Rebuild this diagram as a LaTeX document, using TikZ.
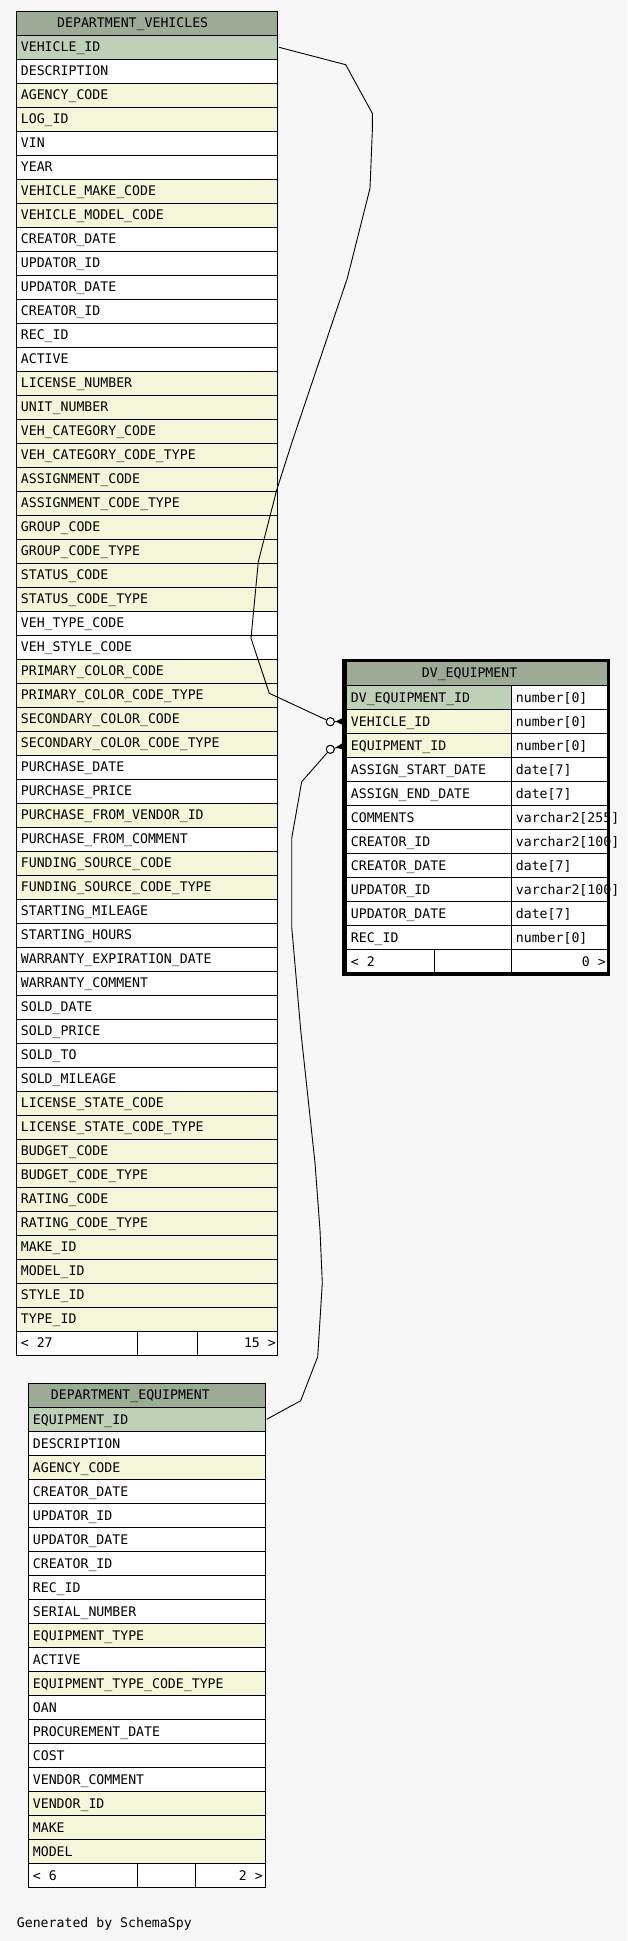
\documentclass[tikz,border=0pt]{standalone}
\usepackage{fontspec}
\newfontfamily\ermono{DejaVu Sans Mono}
\definecolor{bgc}{HTML}{F7F7F7}
\definecolor{hdc}{HTML}{9BAB96}
\definecolor{pkc}{HTML}{BED1B8}
\definecolor{ixc}{HTML}{F4F7DA}
\begin{document}
\begin{tikzpicture}[x=1pt,y=-1pt,
  txt/.style={font=\ermono\fontsize{13.2}{15}\selectfont, inner sep=0pt, anchor=base west},
  txtr/.style={txt, anchor=base east},
  cell/.style={draw=black, line width=1pt},
  fkedge/.style={draw=black, line width=0.9pt},
  odot/.style={circle, draw=black, fill=white, line width=0.9pt, minimum size=8pt, inner sep=0pt}]
\useasboundingbox[fill=bgc] (0,0) rectangle (627,1941);

% ---------------- DEPARTMENT_VEHICLES ----------------
\filldraw[cell, fill=hdc] (16.3,11.3) rectangle (277.3,35);
\node[txt] (dvvh) at (57,27) {DEPARTMENT\_VEHICLES};
\foreach \nm/\cl [count=\i from 0] in {
 VEHICLE\_ID/pkc, DESCRIPTION/white, AGENCY\_CODE/ixc, LOG\_ID/ixc, VIN/white, YEAR/white,
 VEHICLE\_MAKE\_CODE/ixc, VEHICLE\_MODEL\_CODE/ixc, CREATOR\_DATE/white, UPDATOR\_ID/white,
 UPDATOR\_DATE/white, CREATOR\_ID/white, REC\_ID/white, ACTIVE/white, LICENSE\_NUMBER/ixc,
 UNIT\_NUMBER/ixc, VEH\_CATEGORY\_CODE/ixc, VEH\_CATEGORY\_CODE\_TYPE/ixc, ASSIGNMENT\_CODE/ixc,
 ASSIGNMENT\_CODE\_TYPE/ixc, GROUP\_CODE/ixc, GROUP\_CODE\_TYPE/ixc, STATUS\_CODE/ixc,
 STATUS\_CODE\_TYPE/ixc, VEH\_TYPE\_CODE/white, VEH\_STYLE\_CODE/white, PRIMARY\_COLOR\_CODE/ixc,
 PRIMARY\_COLOR\_CODE\_TYPE/ixc, SECONDARY\_COLOR\_CODE/ixc, SECONDARY\_COLOR\_CODE\_TYPE/ixc,
 PURCHASE\_DATE/white, PURCHASE\_PRICE/white, PURCHASE\_FROM\_VENDOR\_ID/ixc,
 PURCHASE\_FROM\_COMMENT/white, FUNDING\_SOURCE\_CODE/ixc, FUNDING\_SOURCE\_CODE\_TYPE/ixc,
 STARTING\_MILEAGE/white, STARTING\_HOURS/white, WARRANTY\_EXPIRATION\_DATE/white,
 WARRANTY\_COMMENT/white, SOLD\_DATE/white, SOLD\_PRICE/white, SOLD\_TO/white,
 SOLD\_MILEAGE/white, LICENSE\_STATE\_CODE/ixc, LICENSE\_STATE\_CODE\_TYPE/ixc, BUDGET\_CODE/ixc,
 BUDGET\_CODE\_TYPE/ixc, RATING\_CODE/ixc, RATING\_CODE\_TYPE/ixc, MAKE\_ID/ixc, MODEL\_ID/ixc,
 STYLE\_ID/ixc, TYPE\_ID/ixc}{
  \pgfmathsetmacro\yt{35+24*\i}
  \filldraw[cell, fill=\cl] (16.3,\yt) rectangle (277.3,\yt+24);
  \node[txt] (dvv\i) at (20.7,\yt+16.7) {\nm};
}
\filldraw[cell, fill=white] (16.3,1331) rectangle (137.3,1355);
\filldraw[cell, fill=white] (137.3,1331) rectangle (197.3,1355);
\filldraw[cell, fill=white] (197.3,1331) rectangle (277.3,1355);
\node[txt] (dvvfl) at (20.7,1347.7) {< 27};
\node[txtr] (dvvfr) at (276,1347.7) {15 >};

% ---------------- DEPARTMENT_EQUIPMENT ----------------
\filldraw[cell, fill=hdc] (28.7,1383.3) rectangle (265.7,1407.3);
\node[txt] (deh) at (50.7,1399.3) {DEPARTMENT\_EQUIPMENT};
\foreach \nm/\cl [count=\i from 0] in {
 EQUIPMENT\_ID/pkc, DESCRIPTION/white, AGENCY\_CODE/ixc, CREATOR\_DATE/white, UPDATOR\_ID/white,
 UPDATOR\_DATE/white, CREATOR\_ID/white, REC\_ID/white, SERIAL\_NUMBER/white, EQUIPMENT\_TYPE/ixc,
 ACTIVE/white, EQUIPMENT\_TYPE\_CODE\_TYPE/ixc, OAN/white, PROCUREMENT\_DATE/white, COST/white,
 VENDOR\_COMMENT/white, VENDOR\_ID/ixc, MAKE/ixc, MODEL/ixc}{
  \pgfmathsetmacro\yt{1407.3+24*\i}
  \filldraw[cell, fill=\cl] (28.7,\yt) rectangle (265.7,\yt+24);
  \node[txt] (de\i) at (32.7,\yt+16.7) {\nm};
}
\filldraw[cell, fill=white] (28.7,1863.3) rectangle (137.3,1887.3);
\filldraw[cell, fill=white] (137.3,1863.3) rectangle (195.3,1887.3);
\filldraw[cell, fill=white] (195.3,1863.3) rectangle (265.7,1887.3);
\node[txt] (defl) at (32.7,1880) {< 6};
\node[txtr] (defr) at (263,1880) {2 >};

% ---------------- DV_EQUIPMENT ----------------
\filldraw[cell, fill=hdc] (346,661.3) rectangle (607.3,685.3);
\node[txt] (dveh) at (421.7,677.3) {DV\_EQUIPMENT};
\foreach \nm/\ty/\cl [count=\i from 0] in {
 DV\_EQUIPMENT\_ID/number[0]/pkc, VEHICLE\_ID/number[0]/ixc, EQUIPMENT\_ID/number[0]/ixc,
 ASSIGN\_START\_DATE/date[7]/white, ASSIGN\_END\_DATE/date[7]/white,
 COMMENTS/varchar2[255]/white, CREATOR\_ID/varchar2[100]/white, CREATOR\_DATE/date[7]/white,
 UPDATOR\_ID/varchar2[100]/white, UPDATOR\_DATE/date[7]/white, REC\_ID/number[0]/white}{
  \pgfmathsetmacro\yt{685.3+24*\i}
  \filldraw[cell, fill=\cl] (346,\yt) rectangle (511.7,\yt+24);
  \filldraw[cell, fill=white] (511.7,\yt) rectangle (607.3,\yt+24);
  \node[txt] (dve\i) at (350.7,\yt+16.7) {\nm};
  \node[txt] (dvt\i) at (515.7,\yt+16.7) {\ty};
}
\filldraw[cell, fill=white] (346,949.3) rectangle (434.3,973.3);
\filldraw[cell, fill=white] (434.3,949.3) rectangle (511.7,973.3);
\filldraw[cell, fill=white] (511.7,949.3) rectangle (607.3,973.3);
\node[txt] (dvefl) at (350.7,966) {< 2};
\node[txtr] (dvefr) at (606,966) {0 >};
\draw[line width=3.5pt] (344,660.3) rectangle (608.7,974);

% ---------------- connectors ----------------
\coordinate (vpk) at (279,47.3);
\coordinate (epk) at (266.7,1419.3);
\coordinate (fkv) at (344.5,721.5);
\coordinate (fke) at (344.5,745.5);
\node[odot] (ov) at (330.3,721.7) {};
\node[odot] (oe) at (330.3,749.3) {};

\draw[fkedge] (vpk) -- (345.7,64.7) -- (372.3,113.3) -- (372.3,131.7) -- (370,188.3)
  -- (347.3,278.3) -- (292.7,440) -- (276.7,490) -- (258.3,561.7) -- (251,638.3)
  -- (269.3,693.3) -- (ov);
\draw[fkedge] (oe) -- (326.7,753.3) -- (301.7,781.7) -- (291.7,838.3) -- (291.7,926.7)
  -- (300.7,1030) -- (315,1163) -- (320,1230) -- (322.3,1283) -- (317.7,1356.7)
  -- (300.7,1400.7) -- (epk);
\draw[fkedge] (ov) -- (fkv);
\draw[fkedge] (oe) -- (fke);
\fill (335.5,721.5) -- (344.5,717.2) -- (344.5,725.8) -- cycle;
\fill (335.5,747.6) -- (344.5,741.8) -- (344.5,749.8) -- cycle;
\node[odot] at (ov) {};
\node[odot] at (oe) {};

\node[txt] (gen) at (16.7,1927.3) {Generated by SchemaSpy};
\end{tikzpicture}
\end{document}
